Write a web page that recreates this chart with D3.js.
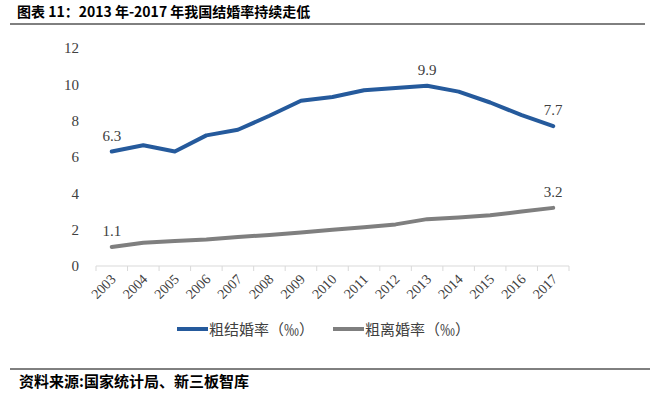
<!DOCTYPE html>
<html>
<head>
<meta charset="utf-8">
<script src="https://cdn.jsdelivr.net/npm/d3@7"></script>
<style>
  body { margin: 0; background: #fff; }
  svg { display: block; }
</style>
</head>
<body>
<div id="chart"></div>
<script>
// data
var years = ["2003","2004","2005","2006","2007","2008","2009","2010","2011","2012","2013","2014","2015","2016","2017"];
var marriage = [6.3, 6.65, 6.3, 7.19, 7.5, 8.27, 9.1, 9.3, 9.67, 9.8, 9.92, 9.6, 9.0, 8.3, 7.7];
var divorce = [1.05, 1.28, 1.37, 1.46, 1.59, 1.71, 1.85, 2.0, 2.13, 2.29, 2.58, 2.67, 2.79, 3.0, 3.2];
var yTicks = [0, 2, 4, 6, 8, 10, 12];
var seriesNames = ["粗结婚率（‰）", "粗离婚率（‰）"];
var labelled = { marriage: ["2003", "2013", "2017"], divorce: ["2003", "2017"] };
var labelText = { marriage: ["6.3", "9.9", "7.7"], divorce: ["1.1", "3.2"] };

var width = 656, height = 397;
var blue = "#255a9c", gray = "#7f7f7f";
var serif = "'Liberation Serif', 'Times New Roman', serif";
var cjk = "'Noto Sans CJK SC', sans-serif";

var svg = d3.select("#chart").append("svg")
    .attr("width", width)
    .attr("height", height);

// title + rules
svg.append("text")
    .attr("x", 17).attr("y", 17)
    .style("font-family", cjk)
    .style("font-weight", "bold")
    .style("font-size", "14px")
    .style("fill", "#000")
    .text("图表 11：2013 年-2017 年我国结婚率持续走低");

svg.append("line")
    .attr("x1", 10).attr("x2", 645)
    .attr("y1", 24).attr("y2", 24)
    .style("stroke", "#000").style("stroke-width", 1);

svg.append("line")
    .attr("x1", 10).attr("x2", 650)
    .attr("y1", 369).attr("y2", 369)
    .style("stroke", "#000").style("stroke-width", 1);

svg.append("text")
    .attr("x", 19).attr("y", 387)
    .style("font-family", cjk)
    .style("font-weight", "bold")
    .style("font-size", "15px")
    .style("fill", "#000")
    .text("资料来源:国家统计局、新三板智库");

// scales
var xScale = d3.scaleBand()
    .domain(years)
    .range([96, 569]);

var yScale = d3.scaleLinear()
    .domain([0, 12])
    .range([266, 48]);

function xc(d) { return xScale(d) + xScale.bandwidth() / 2; }

// y axis labels (no line)
var yAxis = svg.append("g")
    .attr("transform", "translate(79,0)")
    .call(d3.axisLeft(yScale).tickValues(yTicks).tickSize(0).tickPadding(0));
yAxis.select(".domain").remove();
yAxis.selectAll("text")
    .style("font-family", serif)
    .style("font-size", "15px")
    .style("fill", "#404040");

// x axis with ticks at band boundaries
var xAxis = svg.append("g")
    .attr("transform", "translate(0,266)");
xAxis.append("line")
    .attr("x1", xScale.range()[0]).attr("x2", xScale.range()[1])
    .style("stroke", "#d9d9d9").style("stroke-width", 1);
var bounds = years.map(function(d) { return xScale(d); }).concat([xScale.range()[1]]);
xAxis.selectAll(".tick")
    .data(bounds)
    .enter().append("line")
    .attr("x1", function(d) { return d; })
    .attr("x2", function(d) { return d; })
    .attr("y1", 0).attr("y2", 5)
    .style("stroke", "#d9d9d9");
xAxis.selectAll(".year")
    .data(years)
    .enter().append("text")
    .attr("transform", function(d) { return "translate(" + (xc(d) + 5) + ",14) rotate(-45)"; })
    .attr("text-anchor", "end")
    .style("font-family", serif)
    .style("font-size", "14px")
    .style("fill", "#404040")
    .text(function(d) { return d; });

// lines
var line = d3.line()
    .x(function(d, i) { return xc(years[i]); })
    .y(function(d) { return yScale(d); })
    .curve(d3.curveLinear);

svg.append("path")
    .datum(divorce)
    .attr("d", line)
    .style("fill", "none")
    .style("stroke", gray)
    .style("stroke-width", 4)
    .style("stroke-linejoin", "round")
    .style("stroke-linecap", "round");

svg.append("path")
    .datum(marriage)
    .attr("d", line)
    .style("fill", "none")
    .style("stroke", blue)
    .style("stroke-width", 4)
    .style("stroke-linejoin", "round")
    .style("stroke-linecap", "round");

// data labels
function addLabels(key, values) {
    svg.selectAll(".lbl-" + key)
        .data(labelled[key])
        .enter().append("text")
        .attr("x", function(d) { return xc(d); })
        .attr("y", function(d) { return yScale(values[years.indexOf(d)]) - 11; })
        .attr("text-anchor", "middle")
        .style("font-family", serif)
        .style("font-size", "15px")
        .style("fill", "#404040")
        .text(function(d, i) { return labelText[key][i]; });
}
addLabels("marriage", marriage);
addLabels("divorce", divorce);

// legend
var legend = svg.append("g");
var legendItems = [
    { name: seriesNames[0], color: blue, x: 177 },
    { name: seriesNames[1], color: gray, x: 333 }
];
legendItems.forEach(function(item) {
    legend.append("line")
        .attr("x1", item.x).attr("x2", item.x + 31)
        .attr("y1", 329).attr("y2", 329)
        .style("stroke", item.color)
        .style("stroke-width", 4);
    legend.append("text")
        .attr("x", item.x + 32).attr("y", 335)
        .style("font-family", cjk)
        .style("font-size", "15px")
        .style("fill", "#404040")
        .text(item.name);
});
</script>
</body>
</html>
